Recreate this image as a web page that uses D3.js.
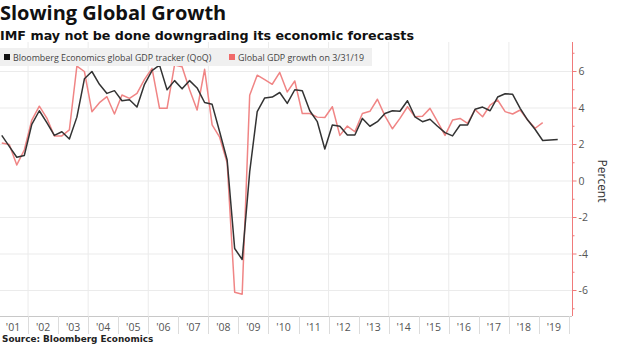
<!DOCTYPE html>
<html><head><meta charset="utf-8">
<script src="https://cdn.jsdelivr.net/npm/d3@7"></script>
<style>
html,body{margin:0;padding:0;background:#fff;}
svg{display:block;}
</style></head>
<body>
<svg id="chart" width="620" height="358"></svg>
<script>
// ---- data ----
const startYear = 2001;
const quarters = []; // "2001Q1" ... built below from year/quarter
const trackerValues = [
 2.5, 1.9, 1.3, 1.4,   3.1, 3.85, 3.2, 2.5,   2.7, 2.3, 3.5, 5.6,
 6.0, 5.3, 4.8, 4.95,  4.4, 4.45, 4.05, 5.3,  6.05, 6.35, 5.0, 5.5,
 5.05, 5.5, 5.1, 4.3,  4.2, 2.7, 1.15, -3.7,  -4.3, 0.5, 3.8, 4.55,
 4.6, 4.85, 4.25, 5.0, 4.95, 3.85, 3.25, 1.75, 3.07, 3.0, 2.52, 2.52,
 3.43, 3.0, 3.25, 3.7, 3.85, 3.82, 4.4, 3.52, 3.25, 3.38, 3.0, 2.65,
 2.47, 3.07, 3.07, 3.93, 4.05, 3.85, 4.6, 4.78, 4.75, 3.98, 3.34, 2.82,
 2.22, 2.25, 2.27
];
const forecastValues = [
 2.08, 2.0, 0.88, 1.7,  3.34, 4.1, 3.45, 2.47,  2.47, 2.8, 6.3, 6.0,
 3.8, 4.29, 4.62, 3.67, 4.71, 4.53, 4.8, 5.57,  6.17, 3.98, 3.98, 6.36,
 6.26, 5.0, 3.89, 6.12, 3.07, 2.4, 1.0, -6.1,   -6.2, 4.7, 5.8, 5.55,
 5.3, 5.95, 4.88, 5.48, 3.7, 3.7, 3.5, 3.48,    4.07, 2.5, 3.01, 2.7,
 3.7, 3.82, 4.48, 3.57, 2.86, 3.43, 4.07, 3.52, 3.55, 3.98, 3.25, 2.5,
 3.34, 3.43, 3.16, 3.91, 3.52, 4.16, 4.44, 3.8, 3.67, 3.89, 3.34, 2.89,
 3.2
];
const yearLabels = ["'01","'02","'03","'04","'05","'06","'07","'08","'09","'10",
  "'11","'12","'13","'14","'15","'16","'17","'18","'19"];
const yTicks = [-6, -4, -2, 0, 2, 4, 6];
const seriesNames = ["Bloomberg Economics global GDP tracker (QoQ)", "Global GDP growth on 3/31/19"];
const seriesColors = ["#333333", "#f08585"];

for (let i = 0; i < trackerValues.length; i++) {
  quarters.push((startYear + Math.floor(i / 4)) + "Q" + (i % 4 + 1));
}
function qTime(label) {
  const yr = +label.slice(0, 4), q = +label.slice(5);
  return yr + (q - 0.5) / 4;
}

// ---- layout ----
const svg = d3.select("#chart");
const plotL = 0, plotR = 572, plotT = 42, plotB = 316;

const x = d3.scaleLinear().domain([2001, 2020]).range([-2, 569]);
const y = d3.scaleLinear().domain([-6, 6]).range([290.5, 71.5]);

svg.append("defs").append("clipPath").attr("id", "clip")
  .append("rect").attr("x", plotL).attr("y", plotT)
  .attr("width", plotR - plotL).attr("height", plotB - plotT);

// horizontal grid
svg.append("g").selectAll("line").data(yTicks).join("line")
  .attr("x1", plotL).attr("x2", plotR)
  .attr("y1", d => y(d)).attr("y2", d => y(d))
  .attr("stroke", "#ebebeb").attr("stroke-width", 1);

// vertical grid every 2 years
const gridYears = d3.range(2002, 2020, 2);
svg.append("g").selectAll("line").data(gridYears).join("line")
  .attr("x1", d => x(d)).attr("x2", d => x(d))
  .attr("y1", plotT).attr("y2", plotB)
  .attr("stroke", "#ebebeb").attr("stroke-width", 1);

// x axis
const years = yearLabels.map((l, i) => startYear + i);
svg.append("line").attr("x1", plotL).attr("x2", plotR)
  .attr("y1", plotB + 0.5).attr("y2", plotB + 0.5)
  .attr("stroke", "#c8c8c8");
svg.append("g").selectAll("line").data(years.slice(1).concat([2020])).join("line")
  .attr("x1", d => Math.round(x(d)) + 0.5).attr("x2", d => Math.round(x(d)) + 0.5)
  .attr("y1", plotB).attr("y2", plotB + 18)
  .attr("stroke", "#dcdcdc");
svg.append("g").selectAll("text").data(yearLabels).join("text")
  .attr("x", (d, i) => x(years[i] + 0.5))
  .attr("y", 331)
  .attr("text-anchor", "middle")
  .attr("font-family", "Open Sans, sans-serif")
  .attr("font-size", 10.5)
  .attr("fill", "#555")
  .text(d => d);

// right axis
const axisG = svg.append("g").attr("transform", `translate(${plotR + 0.5},0)`);
axisG.append("line").attr("x1", 0).attr("x2", 0).attr("y1", plotT).attr("y2", plotB)
  .attr("stroke", "#f07a7a");
axisG.selectAll("line.minor").data(d3.range(-7, 8, 1)).join("line")
  .attr("class", "minor")
  .attr("x1", 0).attr("x2", d => (d % 2 === 0 ? 4 : 2))
  .attr("y1", d => y(d)).attr("y2", d => y(d))
  .attr("stroke", "#f07a7a");
axisG.selectAll("text").data(yTicks).join("text")
  .attr("x", 6).attr("y", d => y(d) + 3.5)
  .attr("font-family", "Open Sans, sans-serif")
  .attr("font-size", 10.5).attr("fill", "#555")
  .text(d => d);
svg.append("text")
  .attr("transform", `translate(598,${y(0)}) rotate(90)`)
  .attr("text-anchor", "middle")
  .attr("font-family", "Open Sans, sans-serif")
  .attr("font-size", 12).attr("fill", "#333")
  .text("Percent");

// lines
const line = d3.line().x((d, i) => x(qTime(quarters[i]))).y(d => y(d));
const linesG = svg.append("g").attr("clip-path", "url(#clip)");
linesG.append("path").datum(forecastValues)
  .attr("fill", "none").attr("stroke", seriesColors[1]).attr("stroke-width", 1.5)
  .attr("stroke-linejoin", "round").attr("d", line);
linesG.append("path").datum(trackerValues)
  .attr("fill", "none").attr("stroke", seriesColors[0]).attr("stroke-width", 1.5)
  .attr("stroke-linejoin", "round").attr("d", line);

// legend
svg.append("rect").attr("x", 0).attr("y", 48).attr("width", 372).attr("height", 18)
  .attr("fill", "#f0f0f0");
const legX = [4, 229];
seriesNames.forEach((n, i) => {
  svg.append("rect").attr("x", legX[i]).attr("y", 54).attr("width", 6).attr("height", 6)
    .attr("fill", i === 0 ? "#111" : "#f06a6a");
  svg.append("text").attr("x", legX[i] + 9).attr("y", 60.5)
    .attr("font-family", "Open Sans, sans-serif").attr("font-size", 8.9)
    .attr("fill", "#444").text(n);
});

// titles
svg.append("text").attr("x", 0).attr("y", 20)
  .attr("font-family", "Open Sans, sans-serif").attr("font-weight", 700)
  .attr("font-size", 20).attr("fill", "#111").text("Slowing Global Growth");
svg.append("text").attr("x", 0).attr("y", 40)
  .attr("font-family", "DejaVu Sans, sans-serif").attr("font-weight", 700)
  .attr("font-size", 12.7).attr("fill", "#111").text("IMF may not be done downgrading its economic forecasts");
svg.append("text").attr("x", 2).attr("y", 342)
  .attr("font-family", "DejaVu Sans, sans-serif").attr("font-weight", 700)
  .attr("font-size", 8.9).attr("fill", "#222").text("Source: Bloomberg Economics");
</script>
</body></html>
